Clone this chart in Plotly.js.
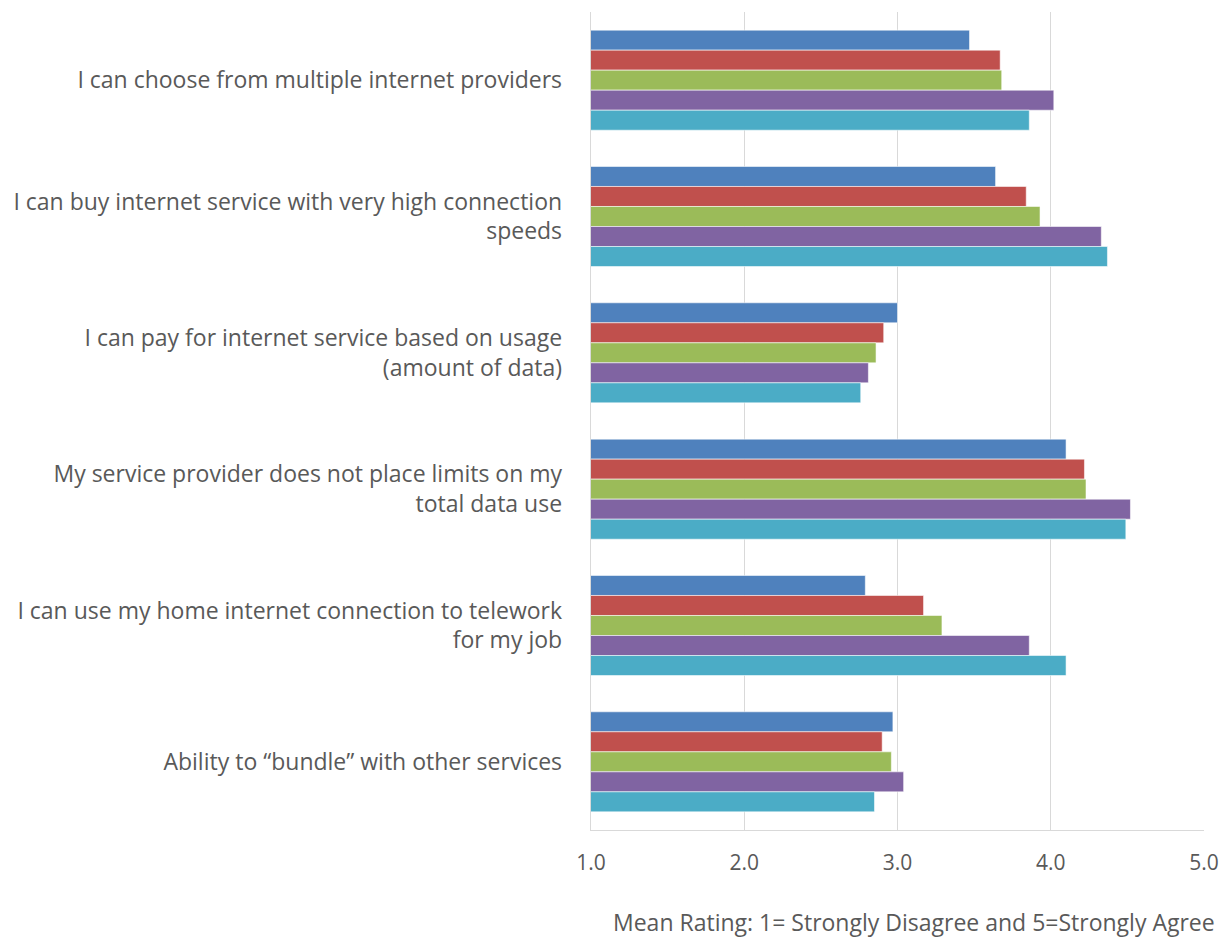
<!DOCTYPE html>
<html>
<head>
<meta charset="utf-8">
<script src="https://cdn.plot.ly/plotly-3.0.1.min.js"></script>
<style>
  html, body { margin: 0; padding: 0; background: #ffffff; }
  #chart { width: 1231px; height: 941px; }
</style>
</head>
<body>
<div id="chart"></div>
<script>
const categories = [
  "I can choose from multiple internet providers",
  "I can buy internet service with very high connection<br>speeds",
  "I can pay for internet service based on usage<br>(amount of data)",
  "My service provider does not place limits on my<br>total data use",
  "I can use my home internet connection to telework<br>for my job",
  "Ability to \u201cbundle\u201d with other services"
];

const seriesNames = ["Series 1", "Series 2", "Series 3", "Series 4", "Series 5"];
const series1 = [3.47, 3.64, 3.00, 4.10, 2.79, 2.97];
const series2 = [3.67, 3.84, 2.91, 4.22, 3.17, 2.90];
const series3 = [3.68, 3.93, 2.86, 4.23, 3.29, 2.96];
const series4 = [4.02, 4.33, 2.81, 4.52, 3.86, 3.04];
const series5 = [3.86, 4.37, 2.76, 4.49, 4.10, 2.85];
const seriesColors = ["#4F81BD", "#C0504D", "#9BBB59", "#8064A2", "#4BACC6"];

const xTickVals = [1, 2, 3, 4, 5];
const xTickText = ["1.0", "2.0", "3.0", "4.0", "5.0"];
const xAxisTitle = "Mean Rating: 1= Strongly Disagree and 5=Strongly Agree";

const allSeries = [series1, series2, series3, series4, series5];
const traces = allSeries.map((vals, i) => ({
  type: "bar",
  orientation: "h",
  name: seriesNames[i],
  y: categories,
  x: vals,
  base: 0,
  marker: { color: seriesColors[i], line: { color: "rgba(255,255,255,0.55)", width: 1 } },
  hoverinfo: "x+name"
}));

const fontFam = "'Open Sans', sans-serif";

const layout = {
  width: 1231,
  height: 941,
  paper_bgcolor: "#ffffff",
  plot_bgcolor: "#ffffff",
  showlegend: false,
  barmode: "group",
  bargap: 0.266,
  bargroupgap: 0,
  margin: { l: 591, r: 27, t: 12, b: 111, pad: 0 },
  font: { family: fontFam, color: "#595959", size: 22 },
  xaxis: {
    range: [1, 5],
    tickvals: xTickVals,
    ticktext: xTickText,
    showgrid: true,
    gridcolor: "#d9d9d9",
    gridwidth: 1.3,
    zeroline: false,
    showline: true,
    linecolor: "#d9d9d9",
    linewidth: 1.3,
    ticks: "",
    ticklabelstandoff: 13,
    tickfont: { family: fontFam, size: 21, color: "#595959" },
    fixedrange: true
  },
  yaxis: {
    autorange: "reversed",
    type: "category",
    showgrid: false,
    zeroline: false,
    showline: true,
    linecolor: "#d9d9d9",
    linewidth: 1.3,
    ticks: "",
    ticklabelstandoff: 23,
    tickfont: { family: fontFam, size: 23, color: "#595959" },
    fixedrange: true
  },
  annotations: [{
    text: xAxisTitle,
    xref: "paper",
    yref: "paper",
    x: 0.527,
    y: -0.113,
    xanchor: "center",
    yanchor: "middle",
    showarrow: false,
    font: { family: fontFam, size: 23, color: "#595959" }
  }]
};

Plotly.newPlot("chart", traces, layout, { displayModeBar: false, staticPlot: true });
</script>
</body>
</html>
